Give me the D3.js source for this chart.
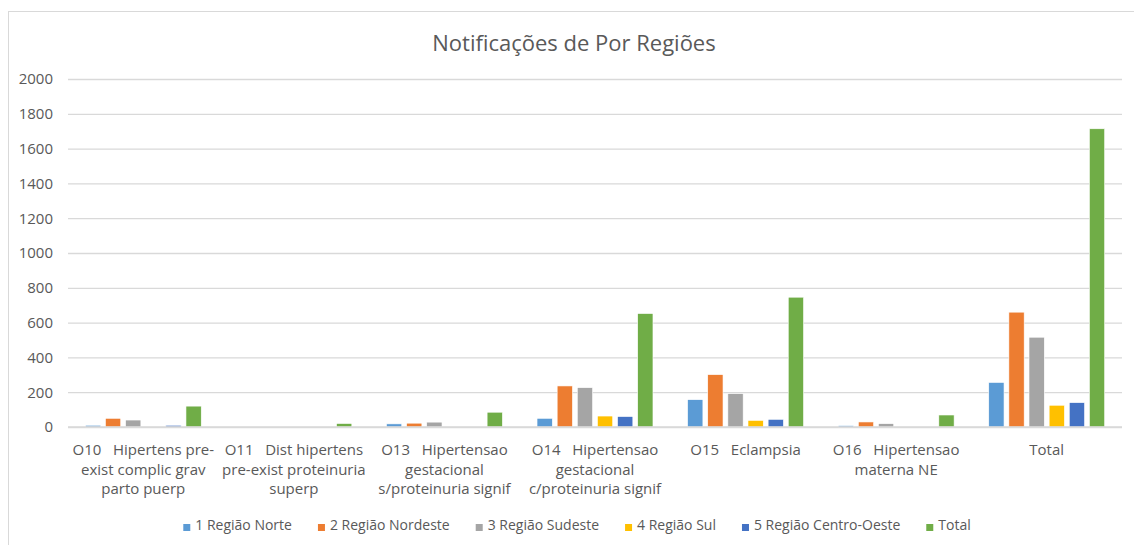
<!DOCTYPE html>
<html>
<head>
<meta charset="utf-8">
<script src="https://cdn.jsdelivr.net/npm/d3@7"></script>
<style>
  body { margin: 0; background: #fff; }
  svg text { font-family: "Open Sans", "Noto Sans", sans-serif; fill: #595959; }
</style>
</head>
<body>
<svg></svg>
<script>
// categorias (quebras de linha como no Excel)
var categories = [
  "O10   Hipertens pre-\nexist complic grav\nparto puerp",
  "O11   Dist hipertens\npre-exist proteinuria\nsuperp",
  "O13   Hipertensao\ngestacional\ns/proteinuria signif",
  "O14   Hipertensao\ngestacional\nc/proteinuria signif",
  "O15   Eclampsia",
  "O16   Hipertensao\nmaterna NE",
  "Total"
];
var seriesNames = ["1 Região Norte", "2 Região Nordeste", "3 Região Sudeste",
                   "4 Região Sul", "5 Região Centro-Oeste", "Total"];
var norte       = [10, 0, 18, 50, 157, 8, 256];
var nordeste    = [50, 0, 22, 236, 301, 29, 660];
var sudeste     = [40, 0, 28, 226, 192, 19, 516];
var sul         = [0, 0, 0, 63, 38, 0, 125];
var centroOeste = [10, 0, 0, 60, 44, 0, 140];
var total       = [120, 20, 85, 652, 746, 69, 1714];
var yTicks = [0, 200, 400, 600, 800, 1000, 1200, 1400, 1600, 1800, 2000];

var seriesValues = [norte, nordeste, sudeste, sul, centroOeste, total];

var width = 1134, height = 545,
    margin = {top: 79, right: 12, bottom: 118, left: 68},
    color = d3.scaleOrdinal()
        .domain(seriesNames)
        .range(["#5b9bd5", "#ed7d31", "#a5a5a5", "#ffc000", "#4472c4", "#70ad47"]),
    svg = d3.select("svg").attr("width", width).attr("height", height);

// moldura do gráfico
svg.append("rect")
    .attr("x", 8.5).attr("y", 11.5)
    .attr("width", width).attr("height", height)
    .attr("fill", "#fff")
    .attr("stroke", "#d9d9d9");

svg.append("text")
    .attr("x", 574).attr("y", 51)
    .attr("text-anchor", "middle")
    .style("font-size", "22px")
    .text("Notificações de Por Regiões");

var x0 = d3.scaleBand()
    .domain(categories)
    .range([margin.left, width - margin.right]);

var x1 = d3.scaleBand()
    .domain(seriesNames)
    .range([0, x0.bandwidth()])
    .paddingInner(0.24)
    .paddingOuter(0.86);

var y = d3.scaleLinear()
    .domain([0, 2000])
    .range([height - margin.bottom, margin.top]);

// grade
var yAxis = svg.append("g")
    .attr("transform", "translate(" + margin.left + ",0)")
    .call(d3.axisLeft(y).tickValues(yTicks).tickFormat(d3.format("d"))
        .tickSize(-(width - margin.left - margin.right)).tickPadding(15));
yAxis.select(".domain").remove();
yAxis.selectAll(".tick line").attr("stroke", "#d9d9d9").attr("stroke-width", 1.3);
yAxis.selectAll(".tick text").style("font-size", "15px").attr("fill", "#595959");

// barras
var group = svg.selectAll(".cat")
    .data(categories)
    .enter().append("g")
    .attr("class", "cat")
    .attr("transform", function(d) { return "translate(" + x0(d) + ",0)"; });

group.selectAll("rect")
    .data(function(d, i) {
        return seriesNames.map(function(s, j) { return {serie: s, value: seriesValues[j][i]}; });
    })
    .enter().append("rect")
    .attr("x", function(d) { return x1(d.serie); })
    .attr("width", x1.bandwidth())
    .attr("y", function(d) { return y(d.value); })
    .attr("height", function(d) { return y(0) - y(d.value); })
    .attr("fill", function(d) { return color(d.serie); })
    .attr("stroke", "#fff")
    .attr("stroke-width", 0.6);

// linha do eixo x
svg.append("line")
    .attr("x1", margin.left).attr("x2", width - margin.right)
    .attr("y1", y(0)).attr("y2", y(0))
    .attr("stroke", "#d9d9d9").attr("stroke-width", 1.3);

// rótulos das categorias
svg.selectAll(".cat-label")
    .data(categories)
    .enter().append("text")
    .attr("class", "cat-label")
    .attr("text-anchor", "middle")
    .style("font-size", "15px")
    .style("white-space", "pre")
    .attr("transform", function(d) { return "translate(" + (x0(d) + x0.bandwidth() / 2) + "," + (y(0) + 28) + ")"; })
    .selectAll("tspan")
    .data(function(d) { return d.split("\n"); })
    .enter().append("tspan")
    .attr("x", 0)
    .attr("y", function(d, i) { return i * 19.5; })
    .text(function(d) { return d; });

// legenda
var legend = svg.append("g").attr("class", "legend");
var item = legend.selectAll("g")
    .data(seriesNames)
    .enter().append("g");
item.append("rect")
    .attr("width", 7).attr("height", 7)
    .attr("y", -6)
    .attr("fill", color);
item.append("text")
    .attr("x", 12)
    .attr("y", 0)
    .style("font-size", "14px")
    .text(function(d) { return d; });

var pos = 0;
item.each(function() {
    var g = d3.select(this);
    g.attr("transform", "translate(" + pos + ",0)");
    pos += 12 + g.select("text").node().getComputedTextLength() + 26;
});
pos -= 26;
legend.attr("transform", "translate(" + (577 - pos / 2) + ",530)");
</script>
</body>
</html>
